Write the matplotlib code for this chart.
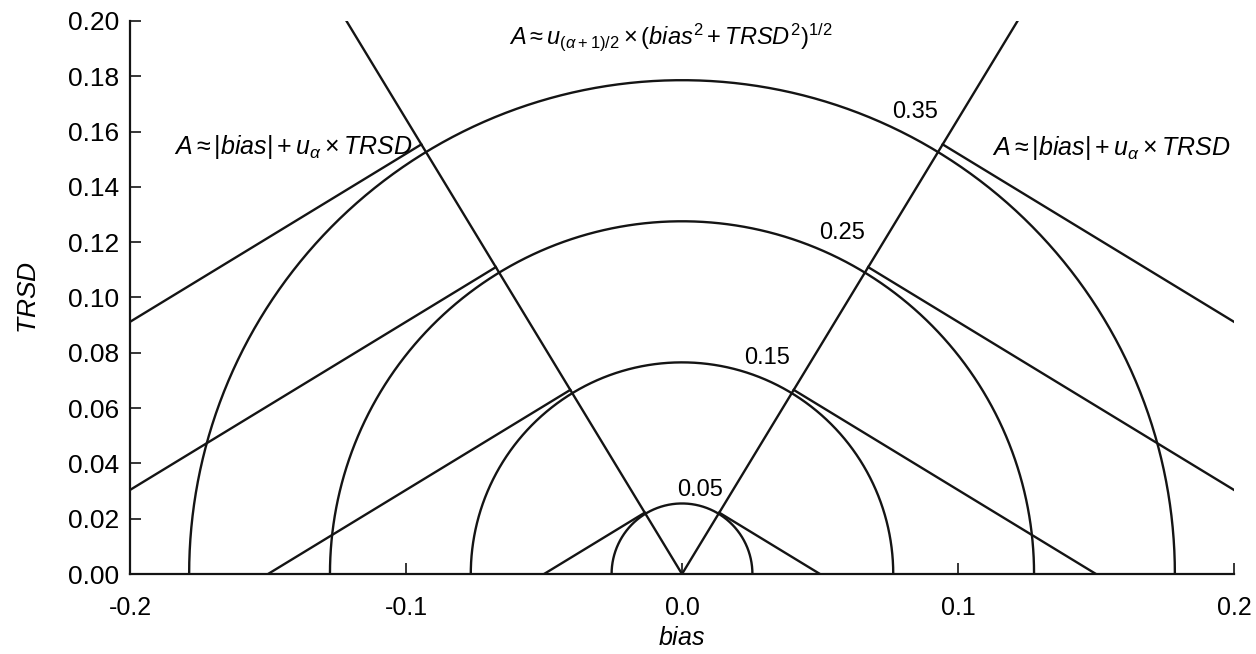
import numpy as np
import matplotlib
matplotlib.use("Agg")
import matplotlib.pyplot as plt

plt.rcParams['font.family'] = ['Liberation Sans', 'DejaVu Sans']
plt.rcParams['mathtext.fontset'] = 'custom'
plt.rcParams['mathtext.rm'] = 'Liberation Sans'
plt.rcParams['mathtext.it'] = 'Liberation Sans:italic'
plt.rcParams['mathtext.bf'] = 'Liberation Sans:bold'

# Data
A_levels = [0.05, 0.15, 0.25, 0.35]
A_labels = ["0.05", "0.15", "0.25", "0.35"]
label_pos_x = [0.0065, 0.0308, 0.058, 0.0844]
label_pos_y = [0.0304, 0.0781, 0.1233, 0.167]
u_alpha = 1.645       # one-sided quantile
u_half = 1.96         # two-sided quantile
x_ticks = [-0.2, -0.1, 0.0, 0.1, 0.2]
x_ticklabels = ["-0.2", "-0.1", "0.0", "0.1", "0.2"]
y_ticks = [0.00, 0.02, 0.04, 0.06, 0.08, 0.10, 0.12, 0.14, 0.16, 0.18, 0.20]
y_ticklabels = ["0.00", "0.02", "0.04", "0.06", "0.08", "0.10", "0.12", "0.14", "0.16", "0.18", "0.20"]
xmin, xmax, ymin, ymax = -0.2, 0.2, 0.0, 0.2

fig = plt.figure(figsize=(12.56, 6.54), dpi=100)
ax = fig.add_axes([0.1035, 0.1223, 0.8790, 0.8457])

lw = 1.7
col = '#141414'

# Semicircles: u_half * sqrt(b^2+T^2) = A
theta = np.linspace(0, np.pi, 400)
for A in A_levels:
    r = A / u_half
    ax.plot(r * np.cos(theta), r * np.sin(theta), color=col, lw=lw)

# Linear approximation lines: |b| + u_alpha*T = A, outside wedge
for A in A_levels:
    b_end = A / (1 + u_alpha ** 2)
    b_start = min(A, xmax)
    for s in (-1, 1):
        b = np.array([s * b_start, s * b_end])
        T = (A - np.abs(b)) / u_alpha
        ax.plot(b, T, color=col, lw=lw)

# Radial boundary lines T = u_alpha*|b|
b_top = ymax / u_alpha
ax.plot([-b_top, 0, b_top], [ymax, 0, ymax], color=col, lw=lw)

for lab, lx, ly in zip(A_labels, label_pos_x, label_pos_y):
    ax.text(lx, ly, lab, ha='center', va='center', fontsize=17)

ax.text(-0.141, 0.1544, r"$A \approx |bias| + u_\alpha \times TRSD$", ha='center', va='center', fontsize=18)
ax.text(0.1555, 0.154, r"$A \approx |bias| + u_\alpha \times TRSD$", ha='center', va='center', fontsize=18)
ax.text(-0.004, 0.194, r"$A \approx u_{(\alpha+1)/2} \times (bias^2 + TRSD^2)^{1/2}$", ha='center', va='center', fontsize=17)

ax.set_xlim(xmin, xmax)
ax.set_ylim(ymin, ymax)
ax.set_xticks(x_ticks)
ax.set_xticklabels(x_ticklabels, fontsize=18)
ax.set_yticks(y_ticks)
ax.set_yticklabels(y_ticklabels, fontsize=19)
ax.tick_params(direction='in', length=8, width=1.2, color=col)
ax.tick_params(axis='x', pad=16)
ax.tick_params(axis='y', pad=8)
for sp in ('top', 'right'):
    ax.spines[sp].set_visible(False)
for sp in ('left', 'bottom'):
    ax.spines[sp].set_linewidth(1.6)
    ax.spines[sp].set_color(col)

ax.set_xlabel(r"$bias$", fontsize=18, labelpad=4)
ax.set_ylabel(r"$TRSD$", fontsize=19, labelpad=19)

fig.savefig("out.png", dpi=100)
